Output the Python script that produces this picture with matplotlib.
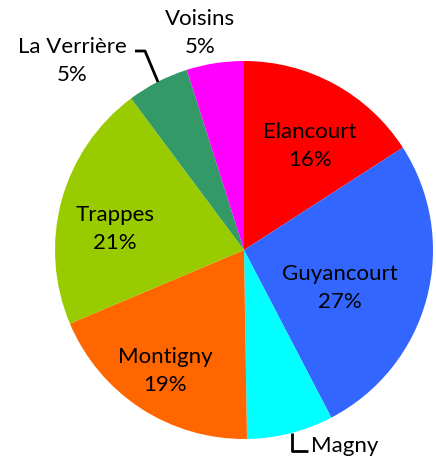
import matplotlib
matplotlib.use("Agg")
import matplotlib.pyplot as plt

labels = ["Elancourt", "Guyancourt", "Magny", "Montigny", "Trappes", "La Verrière", "Voisins"]
values = [15.9, 26.5, 7.4, 18.9, 21.2, 5.3, 4.9]
pct_text = ["16%", "27%", "", "19%", "21%", "5%", "5%"]
colors = ["#FF0000", "#3366FF", "#00FFFF", "#FF6600", "#99CC00", "#339966", "#FF00FF"]

plt.rcParams['font.family'] = ['Lato', 'DejaVu Sans']

W, H = 436, 459
fig = plt.figure(figsize=(W/100, H/100), dpi=100)
ax = fig.add_axes([0, 0, 1, 1])
cx, cy, R = 244, 250, 189

def d(px, py):
    return ((px - cx) / R, (cy - py) / R)

ax.pie(values, colors=colors, startangle=90, counterclock=False, radius=1.0,
       wedgeprops=dict(linewidth=0))
ax.set_xlim(d(0, 0)[0], d(W, 0)[0])
ax.set_ylim(d(0, H)[1], d(0, 0)[1])
ax.set_aspect('equal')
ax.axis('off')

fs = 16
label_pos = {
    "Elancourt": (310, 146),
    "Guyancourt": (340, 288),
    "Montigny": (165, 371),
    "Trappes": (115, 229),
    "La Verrière": (72, 61),
    "Voisins": (200, 33),
}
for lab, pct in zip(labels, pct_text):
    if lab in label_pos:
        x, y = d(*label_pos[lab])
        ax.text(x, y, lab + "\n" + pct, ha='center', va='center', fontsize=fs,
                linespacing=1.5, color='black')

# Magny label with leader line
mx, my = d(311, 446)
ax.text(mx, my, labels[2], ha='left', va='center', fontsize=fs, color='black')
pts = [d(292, 433), d(292, 451), d(308, 451)]
ax.plot([p[0] for p in pts], [p[1] for p in pts], color='black', lw=2, solid_capstyle='butt')

# La Verrière leader line
pts = [d(135, 51), d(145, 51), d(158, 82)]
ax.plot([p[0] for p in pts], [p[1] for p in pts], color='black', lw=2, solid_capstyle='butt')

fig.savefig("out.png", dpi=100)
